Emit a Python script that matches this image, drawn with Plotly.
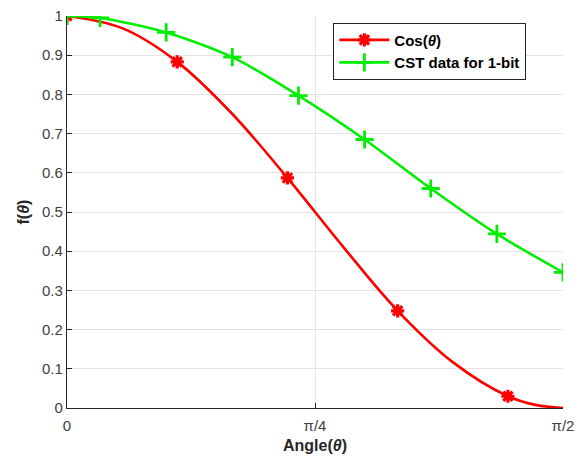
import plotly.graph_objects as go

# Data (angles in degrees)
cos_angles = [0, 10, 20, 30, 40, 50, 60, 70, 80, 85, 90]
cos_values = [1.0, 0.969, 0.883, 0.750, 0.587, 0.413, 0.248, 0.117, 0.030, 0.008, 0.0]
cos_marker_on = [True, False, True, False, True, False, True, False, True, False, False]

cst_angles = [0, 6, 18, 30, 42, 54, 66, 78, 90]
cst_values = [1.0, 0.995, 0.958, 0.895, 0.797, 0.685, 0.560, 0.444, 0.346]

x_tickvals = [0, 45, 90]
x_ticktext = ["0", "π/4", "π/2"]
y_tickvals = [0, 0.1, 0.2, 0.3, 0.4, 0.5, 0.6, 0.7, 0.8, 0.9, 1.0]
y_ticktext = ["0", "0.1", "0.2", "0.3", "0.4", "0.5", "0.6", "0.7", "0.8", "0.9", "1"]

RED = "#ff0000"
GREEN = "#00ee00"
FONT = "Liberation Sans, Arial, sans-serif"
TICKCOL = "#404040"

red_marker = dict(symbol="asterisk-open", color=RED, size=11, line=dict(color=RED, width=3.2))
green_marker = dict(symbol="cross-thin-open", color=GREEN, size=13, line=dict(color=GREEN, width=2.8))
red_line = dict(color=RED, width=2.6, shape="spline", smoothing=1.0)
green_line = dict(color=GREEN, width=2.6, shape="spline", smoothing=0.8)

fig = go.Figure()

# smooth lines
fig.add_trace(go.Scatter(x=cos_angles, y=cos_values, mode="lines", line=red_line,
                         showlegend=False, hoverinfo="skip"))
fig.add_trace(go.Scatter(x=cst_angles, y=cst_values, mode="lines", line=green_line,
                         showlegend=False, hoverinfo="skip"))

# markers
fig.add_trace(go.Scatter(
    x=[a for a, m in zip(cos_angles, cos_marker_on) if m],
    y=[v for v, m in zip(cos_values, cos_marker_on) if m],
    mode="markers", marker=red_marker, showlegend=False))
fig.add_trace(go.Scatter(x=cst_angles, y=cst_values, mode="markers",
                         marker=green_marker, showlegend=False))

# legend entries
fig.add_trace(go.Scatter(x=[None], y=[None], mode="lines+markers", name="Cos(<i>θ</i>)",
                         line=dict(color=RED, width=2.6), marker=red_marker))
fig.add_trace(go.Scatter(x=[None], y=[None], mode="lines+markers", name="CST data for 1-bit",
                         line=dict(color=GREEN, width=2.6), marker=green_marker))

fig.update_layout(
    width=584, height=460,
    margin=dict(l=67, r=21, t=16, b=52),
    paper_bgcolor="white", plot_bgcolor="white",
    font=dict(family=FONT, size=14, color=TICKCOL),
    legend=dict(
        x=0.537, y=0.983, xanchor="left", yanchor="top",
        bgcolor="white", bordercolor="#262626", borderwidth=1,
        font=dict(family=FONT, size=15, color="#000000", weight="bold"),
        tracegroupgap=0, itemwidth=50,
    ),
    xaxis=dict(
        range=[0, 90], tickvals=x_tickvals, ticktext=x_ticktext,
        showgrid=True, gridcolor="#e3e3e3", gridwidth=1,
        showline=True, linecolor="#262626", linewidth=1.2,
        ticks="inside", ticklen=5, tickcolor="#262626",
        zeroline=False, ticklabelstandoff=4, automargin=False,
        tickfont=dict(family=FONT, size=15, color=TICKCOL),
        title=dict(text="Angle(<i>θ</i>)", standoff=6,
                   font=dict(family=FONT, size=16, color="#262626", weight="bold")),
    ),
    yaxis=dict(
        range=[0, 1], tickvals=y_tickvals, ticktext=y_ticktext,
        showgrid=True, gridcolor="#e3e3e3", gridwidth=1,
        showline=True, linecolor="#262626", linewidth=1.2,
        ticks="inside", ticklen=5, tickcolor="#262626",
        zeroline=False, automargin=False,
        tickfont=dict(family=FONT, size=15, color=TICKCOL),
        title=dict(text="f(<i>θ</i>)", standoff=8,
                   font=dict(family=FONT, size=16, color="#262626", weight="bold")),
    ),
)

fig.write_html("out.html")
